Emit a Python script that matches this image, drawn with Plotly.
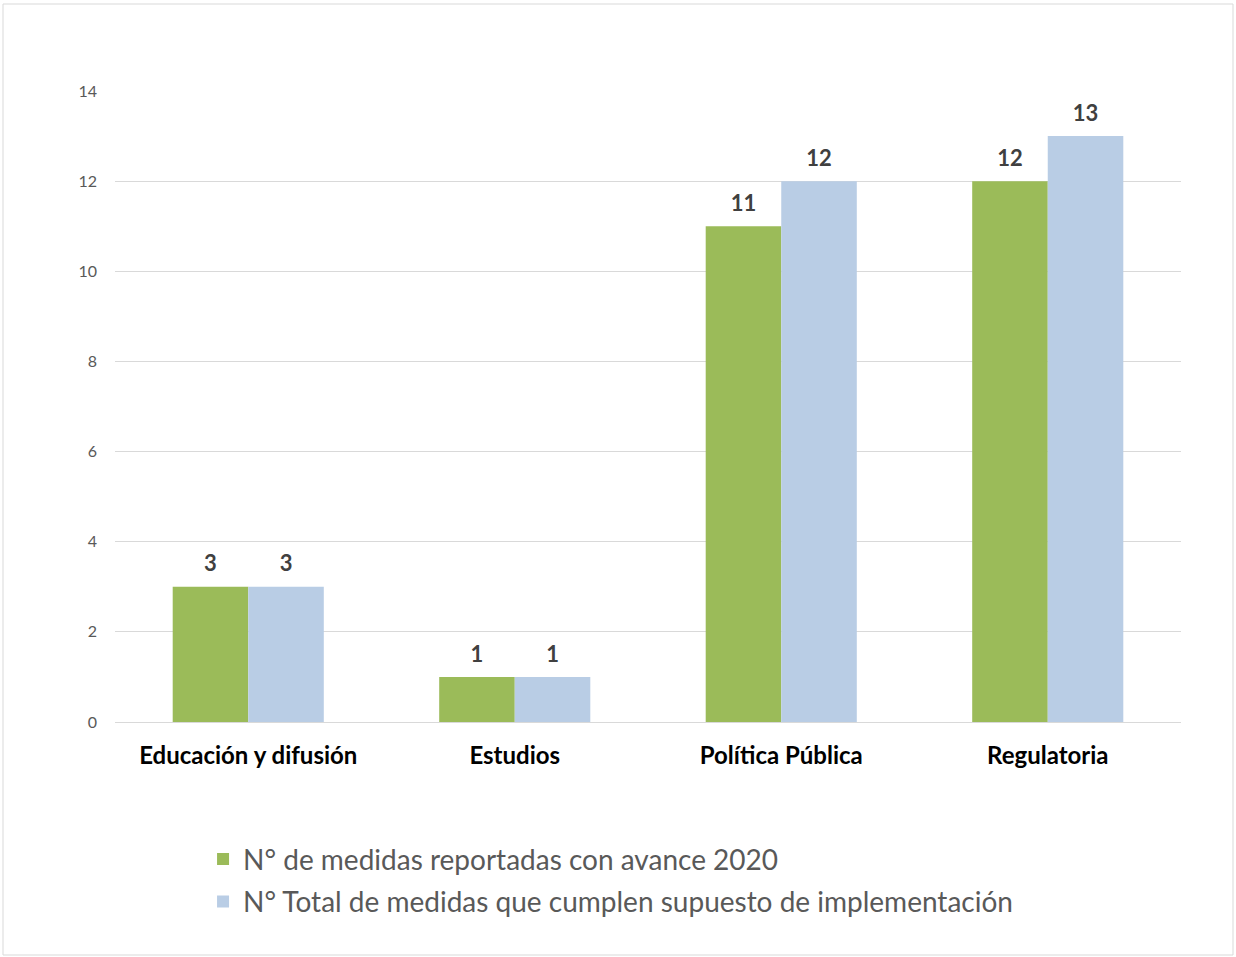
import plotly.graph_objects as go

categories = ["Educación y difusión", "Estudios", "Política Pública", "Regulatoria"]
series1_name = "N° de medidas reportadas con avance 2020"
series1_values = [3, 1, 11, 12]
series2_name = "N° Total de medidas que cumplen supuesto de implementación"
series2_values = [3, 1, 12, 13]
y_ticks = [0, 2, 4, 6, 8, 10, 12, 14]

FONT = "Lato, 'Open Sans', sans-serif"
label_tpl = "<span style='font-size:22px'><b>%{y}</b></span><br> "

W, H = 1236, 957
L, T, R, B = 115, 91, 55, 235
PW, PH = W - L - R, H - T - B

fig = go.Figure()
for i, (name, vals, col) in enumerate([(series1_name, series1_values, "#9BBB59"),
                                       (series2_name, series2_values, "#B9CDE5")]):
    fig.add_trace(go.Bar(
        x=categories, y=vals, name=name, legendgroup=f"g{i}",
        marker=dict(color=col, line=dict(width=0)),
        texttemplate=label_tpl, textposition="outside", cliponaxis=False,
        textfont=dict(size=8, color="#404040", family=FONT),
    ))

fig.update_layout(
    width=W, height=H,
    margin=dict(l=L, r=R, t=T, b=B),
    paper_bgcolor="white", plot_bgcolor="white",
    barmode="group", bargap=0.433, bargroupgap=0,
    font=dict(family=FONT, color="#595959"),
    showlegend=True,
    legend=dict(
        orientation="v", x=0.0826, xanchor="left", y=-0.178, yanchor="top",
        font=dict(size=28, color="#595959", family=FONT),
        tracegroupgap=3, itemwidth=30,
    ),
)
fig.update_yaxes(
    range=[0, 14], tickvals=y_ticks, showgrid=True, gridcolor="#D9D9D9", gridwidth=1,
    zeroline=True, zerolinecolor="#D9D9D9", zerolinewidth=1, showline=False,
    ticks="", ticklabelstandoff=17,
    tickfont=dict(size=16, color="#595959", family=FONT),
)
fig.update_xaxes(
    showgrid=False, showline=False, ticks="", ticklabelstandoff=17,
    tickfont=dict(size=24, color="#000000", family=FONT),
    tickprefix="<b>", ticksuffix="</b>",
)
fig.add_shape(
    type="rect", xref="paper", yref="paper",
    x0=(3 - L) / PW, x1=(1233 - L) / PW,
    y0=(T + PH - 955) / PH, y1=(T + PH - 4) / PH,
    line=dict(color="#D9D9D9", width=1), fillcolor="rgba(0,0,0,0)", layer="below",
)

fig.write_html("out.html", config={"displayModeBar": False},
               post_script="document.body.style.margin='0';")
